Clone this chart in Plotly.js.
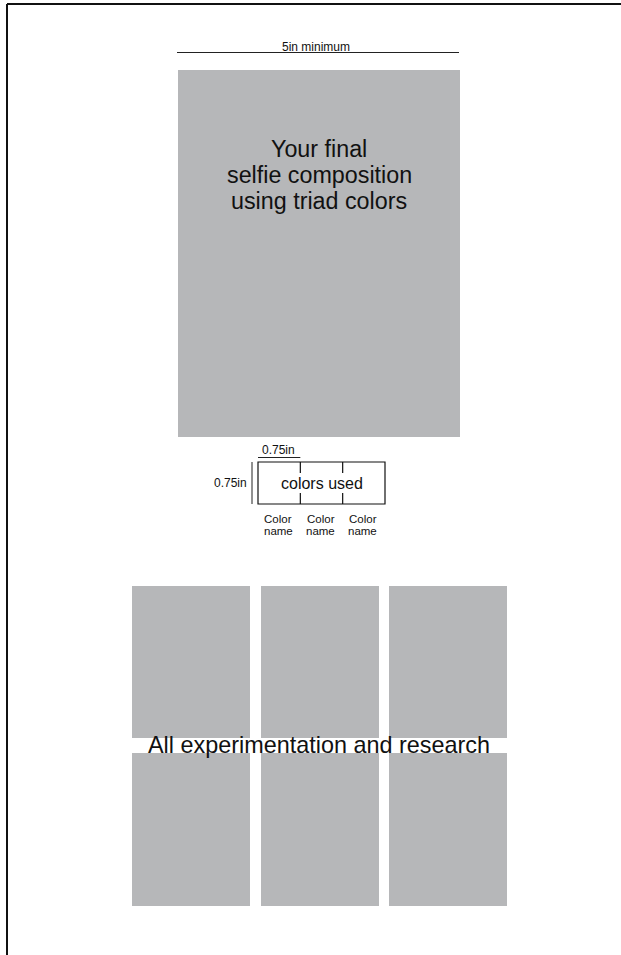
<!DOCTYPE html>
<html>
<head>
<meta charset="utf-8">
<script src="https://cdn.plot.ly/plotly-3.0.1.min.js"></script>
<style>
  html, body { margin: 0; padding: 0; background: #ffffff; overflow: hidden; }
  #chart { width: 621px; height: 955px; }
</style>
</head>
<body>
<div id="chart"></div>
<script>
// ---- content (text) ----
const widthLabel = "5in minimum";
const mainLines = ["Your final", "selfie composition", "using triad colors"];
const swatchTitle = "colors used";
const swatchDimLabels = ["0.75in", "0.75in"];
const swatchNameLines = ["Color", "name"];
const swatchCount = 3;
const gridRowCount = 2;
const gridColCount = 3;
const researchLabel = "All experimentation and research";

// ---- geometry / style ----
const W = 621, H = 955;
const GRAY = "#b6b7b9";
const INK = "#111111";
const FONT = "Liberation Sans, Arial, Helvetica, sans-serif";

const mainBox = {x0: 178, x1: 460, y0: 70, y1: 437};
const dimLineY = 52.5;
const swatch = {x0: 258, x1: 385, y0: 462, y1: 504};
const gridCols = [[132, 250], [261, 379], [389, 507]];
const gridRows = [[586, 738], [753, 906]];

const shapes = [];
const annotations = [];

function rect(x0, y0, x1, y1, fill, line) {
  shapes.push({type: "rect", xref: "x", yref: "y", x0, y0, x1, y1,
    fillcolor: fill, line: line || {width: 0}, layer: "below"});
}
function seg(x0, y0, x1, y1, w, c) {
  shapes.push({type: "line", xref: "x", yref: "y", x0, y0, x1, y1,
    line: {color: c || INK, width: w || 1}});
}
function label(text, x, y, size, anchor) {
  annotations.push({text, x, y, xref: "x", yref: "y", showarrow: false,
    xanchor: anchor || "center", yanchor: "middle",
    font: {family: FONT, size, color: INK}});
}

// page border (top and left)
seg(7, 4, W, 4, 2, "#111");
seg(7, 4, 7, H, 2, "#111");

// width dimension
seg(177, dimLineY, 459, dimLineY, 1, "#222");
label(widthLabel, 316, dimLineY - 5.5, 12);

// main composition box
rect(mainBox.x0, mainBox.y0, mainBox.x1, mainBox.y1, GRAY);
const mainCx = (mainBox.x0 + mainBox.x1) / 2;
mainLines.forEach((t, i) => label(t, mainCx, 149 + i * 25.8, 23.3));

// swatch dimension markers
const cellW = (swatch.x1 - swatch.x0) / swatchCount;
seg(swatch.x0, 457.5, swatch.x0 + cellW, 457.5, 1, "#222");
label(swatchDimLabels[0], swatch.x0 + cellW / 2 - 1, 450, 12);
seg(252, swatch.y0, 252, swatch.y1, 1, "#222");
label(swatchDimLabels[1], 249, 483, 12, "right");

// swatch box
rect(swatch.x0, swatch.y0, swatch.x1, swatch.y1, "rgba(0,0,0,0)", {color: INK, width: 1.2});
for (let i = 1; i < swatchCount; i++) {
  const xx = swatch.x0 + cellW * i;
  seg(xx, swatch.y0, xx, 473, 1.2);
  seg(xx, 493, xx, swatch.y1, 1.2);
}
label(swatchTitle, (swatch.x0 + swatch.x1) / 2, 483, 16);
for (let i = 0; i < swatchCount; i++) {
  const cx = swatch.x0 + cellW * (i + 0.5) - 1;
  swatchNameLines.forEach((t, j) => label(t, cx, 519 + j * 11.5, 11.5));
}

// research grid
for (let r = 0; r < gridRowCount; r++) {
  for (let c = 0; c < gridColCount; c++) {
    rect(gridCols[c][0], gridRows[r][0], gridCols[c][1], gridRows[r][1], GRAY);
  }
}
label(researchLabel, 319, 745, 23.4);

const layout = {
  width: W, height: H,
  margin: {l: 0, r: 0, t: 0, b: 0, pad: 0},
  paper_bgcolor: "#ffffff", plot_bgcolor: "#ffffff",
  showlegend: false,
  xaxis: {range: [0, W], visible: false, fixedrange: true},
  yaxis: {range: [H, 0], visible: false, fixedrange: true},
  shapes, annotations
};

Plotly.newPlot("chart", [{x: [], y: [], type: "scatter", mode: "markers", hoverinfo: "skip"}], layout,
  {displayModeBar: false, staticPlot: true});
</script>
</body>
</html>
